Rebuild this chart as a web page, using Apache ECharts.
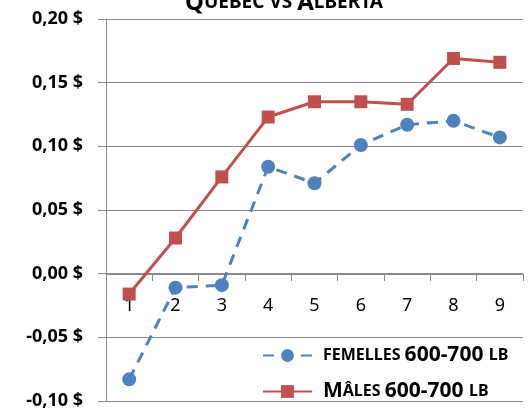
<!DOCTYPE html>
<html lang="fr">
<head>
  <meta charset="UTF-8">
  <title>Québec vs Alberta</title>
  <script src="https://cdn.jsdelivr.net/npm/echarts@6/dist/echarts.min.js"></script>
</head>
<style>
  body { margin: 0; background: #fff; }
</style>
<body>
<div id="main" style="width: 530px;height:412px;"></div>
<script>
  // données
  var categories = ['1', '2', '3', '4', '5', '6', '7', '8', '9'];
  var femelles = [-0.083, -0.011, -0.009, 0.084, 0.071, 0.101, 0.117, 0.120, 0.107];
  var males = [-0.016, 0.028, 0.076, 0.123, 0.135, 0.135, 0.133, 0.169, 0.166];
  var nomFemelles = 'Femelles 600-700 lb';
  var nomMales = 'Mâles 600-700 lb';

  var police = 'Noto Sans';
  var gris = '#898989';
  var myChart = echarts.init(document.getElementById('main'));
  myChart.setOption({
    animation: false,
    title: {
      text: '{a|Q}{b|UÉBEC VS }{a|A}{b|LBERTA}',
      left: 180,
      top: -14,
      textStyle: {
        rich: {
          a: { fontFamily: police, fontWeight: 'bold', fontSize: 24, color: '#000' },
          b: { fontFamily: police, fontWeight: 'bold', fontSize: 19, color: '#000' }
        }
      }
    },
    legend: {
      orient: 'vertical',
      left: 257,
      top: 340,
      itemWidth: 49,
      itemHeight: 16,
      itemGap: 15,
      data: [nomFemelles, nomMales],
      formatter: function (name) {
        if (name === nomFemelles) {
          return '{s|FEMELLES }{b|600-700 }{s|LB}';
        }
        return '{b|M}{s|ÂLES }{b|600-700 }{s|LB}';
      },
      textStyle: {
        padding: [0, 0, 0, 6],
        rich: {
          s: { fontFamily: police, fontWeight: 'bold', fontSize: 16, color: '#000', lineHeight: 24 },
          b: { fontFamily: police, fontWeight: 'bold', fontSize: 21, color: '#000', lineHeight: 24 }
        }
      }
    },
    grid: {
      left: 106,
      right: 7,
      top: 19,
      bottom: 11,
      outerBoundsMode: 'none'
    },
    xAxis: {
      type: 'category',
      data: categories,
      offset: -127,
      axisLine: { onZero: false, lineStyle: { color: gris, width: 1 } },
      axisTick: { show: true, length: 7, lineStyle: { color: gris } },
      axisLabel: {
        margin: 23,
        fontFamily: police,
        fontSize: 18,
        color: '#000'
      },
      z: 1
    },
    yAxis: {
      type: 'value',
      min: -0.1,
      max: 0.2,
      interval: 0.05,
      axisLine: { show: true, lineStyle: { color: gris, width: 1 } },
      axisTick: { show: true, length: 8, lineStyle: { color: gris } },
      splitLine: { show: true, lineStyle: { color: gris, width: 1 } },
      axisLabel: {
        margin: 23,
        fontFamily: police,
        fontWeight: 'bold',
        fontSize: 18,
        color: '#000',
        formatter: function (v) {
          return v.toFixed(2).replace('.', ',') + ' $';
        }
      }
    },
    series: [
      {
        name: nomFemelles,
        type: 'line',
        data: femelles,
        color: '#4F81BD',
        symbol: 'circle',
        symbolSize: 14,
        lineStyle: { width: 3, type: [11, 8] },
        z: 3
      },
      {
        name: nomMales,
        type: 'line',
        data: males,
        color: '#C0504D',
        symbol: 'rect',
        symbolSize: 13,
        lineStyle: { width: 3 },
        z: 2
      }
    ]
  });
</script>
</body>
</html>
